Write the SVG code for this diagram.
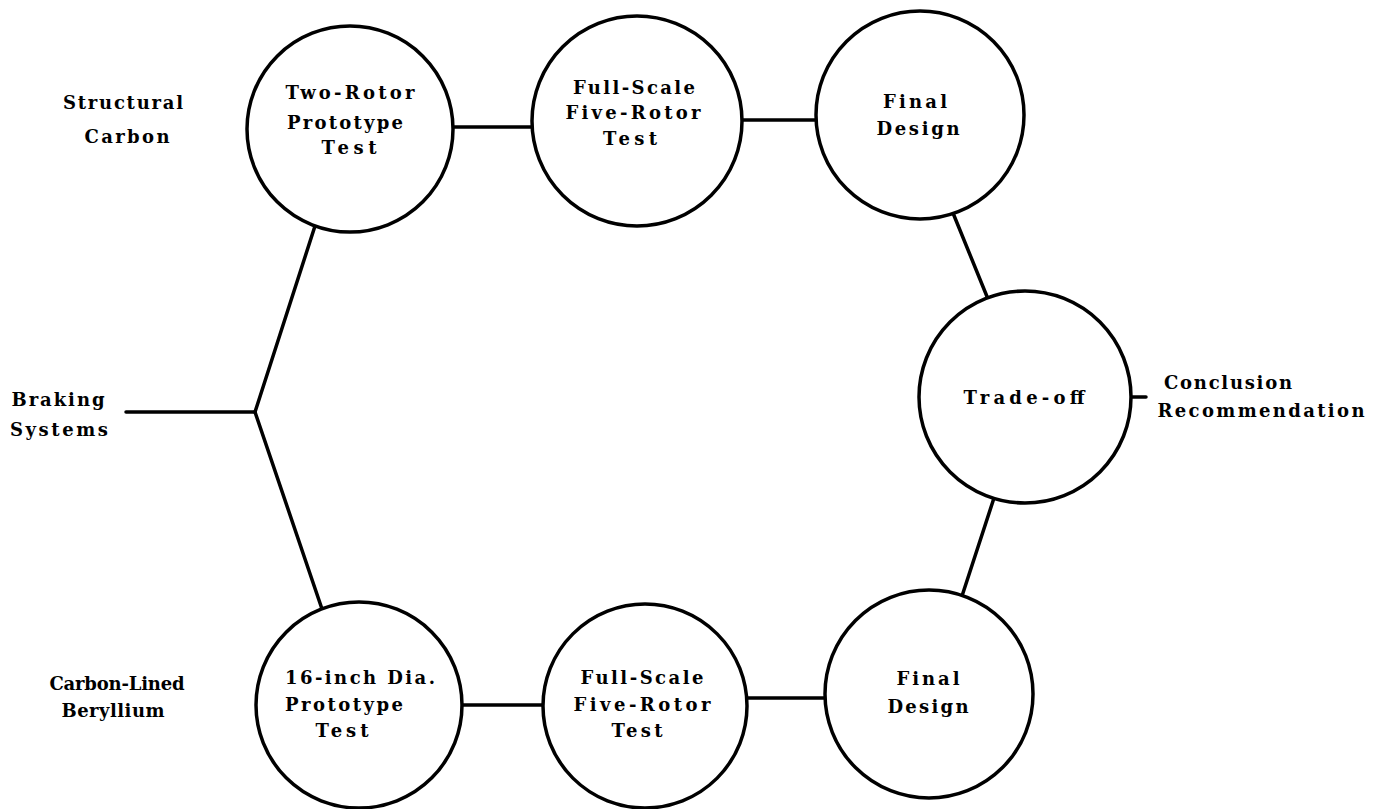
<svg xmlns="http://www.w3.org/2000/svg" width="1381" height="809" viewBox="0 0 1381 809">
<style>
.n{fill:#fff;stroke:#000;stroke-width:3.5}
.c line{stroke:#000;stroke-width:3.5;stroke-linecap:round}
text{font-family:"DejaVu Serif","Liberation Serif",serif;font-weight:bold;font-size:18px;fill:#000;text-anchor:middle}
</style>
<rect width="1381" height="809" fill="#fff"/>
<g class="c" id="connectors">
<line x1="453" y1="127" x2="532" y2="127"/>
<line x1="742" y1="120" x2="816" y2="120"/>
<line x1="953" y1="213" x2="988" y2="299"/>
<line x1="1131" y1="397" x2="1146" y2="397"/>
<line x1="994" y1="498" x2="962" y2="596"/>
<line x1="747" y1="698" x2="825" y2="698"/>
<line x1="462" y1="705" x2="543" y2="705"/>
<line x1="126" y1="412" x2="255" y2="412"/>
<line x1="255" y1="412" x2="315" y2="226"/>
<line x1="255" y1="412" x2="322" y2="609"/>
</g>
<g id="n1"><circle class="n" cx="350" cy="129" r="103"/>
<text x="350" y="99" textLength="129" lengthAdjust="spacing">Two-Rotor</text>
<text x="345" y="129" textLength="116" lengthAdjust="spacing">Prototype</text>
<text x="349" y="154" textLength="55" lengthAdjust="spacing">Test</text></g>
<g id="n2"><circle class="n" cx="637" cy="121" r="105"/>
<text x="634" y="94" textLength="122" lengthAdjust="spacing">Full-Scale</text>
<text x="633" y="119" textLength="135" lengthAdjust="spacing">Five-Rotor</text>
<text x="630" y="145" textLength="54" lengthAdjust="spacing">Test</text></g>
<g id="n3"><circle class="n" cx="920" cy="115" r="104"/>
<text x="915" y="108" textLength="64" lengthAdjust="spacing">Final</text>
<text x="918" y="135" textLength="83" lengthAdjust="spacing">Design</text></g>
<g id="n4"><circle class="n" cx="1025" cy="397" r="106"/>
<text x="1024" y="404" textLength="121" lengthAdjust="spacing">Trade-off</text></g>
<g id="n5"><circle class="n" cx="929" cy="694" r="104"/>
<text x="928" y="685" textLength="63" lengthAdjust="spacing">Final</text>
<text x="928" y="713" textLength="81" lengthAdjust="spacing">Design</text></g>
<g id="n6"><circle class="n" cx="645" cy="706" r="102"/>
<text x="642" y="684" textLength="123" lengthAdjust="spacing">Full-Scale</text>
<text x="642" y="711" textLength="137" lengthAdjust="spacing">Five-Rotor</text>
<text x="637" y="737" textLength="51" lengthAdjust="spacing">Test</text></g>
<g id="n7"><circle class="n" cx="359" cy="705" r="103"/>
<text x="360" y="684" textLength="150" lengthAdjust="spacing">16-inch Dia.</text>
<text x="344" y="711" textLength="118" lengthAdjust="spacing">Prototype</text>
<text x="342" y="737" textLength="53" lengthAdjust="spacing">Test</text></g>
<g id="labels">
<text x="123" y="109" textLength="120" lengthAdjust="spacing">Structural</text>
<text x="127" y="143" textLength="85" lengthAdjust="spacing">Carbon</text>
<text x="58" y="406" textLength="93" lengthAdjust="spacing">Braking</text>
<text x="59" y="436" textLength="98" lengthAdjust="spacing">Systems</text>
<text x="117" y="690" textLength="135" lengthAdjust="spacing">Carbon-Lined</text>
<text x="113" y="717" textLength="103" lengthAdjust="spacing">Beryllium</text>
<text x="1228" y="389" textLength="128" lengthAdjust="spacing">Conclusion</text>
<text x="1261" y="417" textLength="207" lengthAdjust="spacing">Recommendation</text>
</g>
</svg>
